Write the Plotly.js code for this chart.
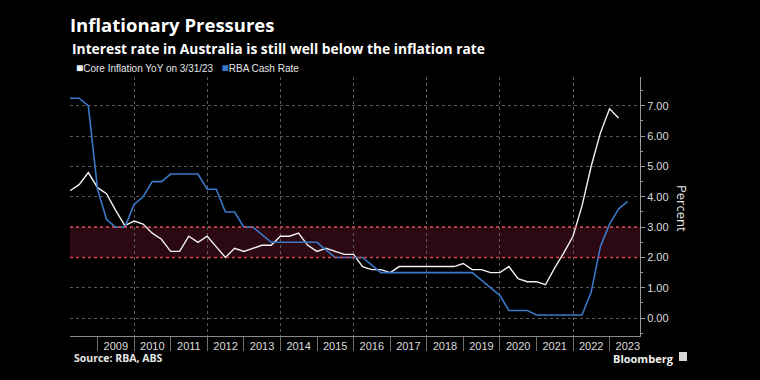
<!DOCTYPE html>
<html>
<head>
<meta charset="utf-8">
<script src="https://cdn.plot.ly/plotly-3.0.1.min.js"></script>
<style>html,body{margin:0;padding:0;background:#000;}#chart{width:760px;height:380px;}</style>
</head>
<body>
<div id="chart"></div>
<script>
// Quarter-end dates
const quarterDates = [
  '2008-03-31','2008-06-30','2008-09-30','2008-12-31',
  '2009-03-31','2009-06-30','2009-09-30','2009-12-31',
  '2010-03-31','2010-06-30','2010-09-30','2010-12-31',
  '2011-03-31','2011-06-30','2011-09-30','2011-12-31',
  '2012-03-31','2012-06-30','2012-09-30','2012-12-31',
  '2013-03-31','2013-06-30','2013-09-30','2013-12-31',
  '2014-03-31','2014-06-30','2014-09-30','2014-12-31',
  '2015-03-31','2015-06-30','2015-09-30','2015-12-31',
  '2016-03-31','2016-06-30','2016-09-30','2016-12-31',
  '2017-03-31','2017-06-30','2017-09-30','2017-12-31',
  '2018-03-31','2018-06-30','2018-09-30','2018-12-31',
  '2019-03-31','2019-06-30','2019-09-30','2019-12-31',
  '2020-03-31','2020-06-30','2020-09-30','2020-12-31',
  '2021-03-31','2021-06-30','2021-09-30','2021-12-31',
  '2022-03-31','2022-06-30','2022-09-30','2022-12-31',
  '2023-03-31','2023-06-30'
];

// Core Inflation YoY (through 3/31/23)
const coreInflation = [
  4.2, 4.4, 4.8, 4.3,
  4.1, 3.55, 3.05, 3.2,
  3.1, 2.8, 2.6, 2.2,
  2.2, 2.7, 2.5, 2.7,
  2.35, 2.0, 2.3, 2.2,
  2.3, 2.4, 2.4, 2.7,
  2.7, 2.8, 2.4, 2.2,
  2.3, 2.2, 2.1, 2.1,
  1.7, 1.6, 1.6, 1.5,
  1.7, 1.7, 1.7, 1.7,
  1.7, 1.7, 1.7, 1.8,
  1.6, 1.6, 1.5, 1.5,
  1.7, 1.3, 1.2, 1.2,
  1.1, 1.65, 2.15, 2.7,
  3.7, 5.0, 6.1, 6.9,
  6.6
];

// RBA Cash Rate
const cashRate = [
  7.25, 7.25, 7.0, 4.25,
  3.25, 3.0, 3.0, 3.75,
  4.0, 4.5, 4.5, 4.75,
  4.75, 4.75, 4.75, 4.25,
  4.25, 3.5, 3.5, 3.0,
  3.0, 2.75, 2.5, 2.5,
  2.5, 2.5, 2.5, 2.5,
  2.25, 2.0, 2.0, 2.0,
  2.0, 1.75, 1.5, 1.5,
  1.5, 1.5, 1.5, 1.5,
  1.5, 1.5, 1.5, 1.5,
  1.5, 1.25, 1.0, 0.75,
  0.25, 0.25, 0.25, 0.1,
  0.1, 0.1, 0.1, 0.1,
  0.1, 0.85, 2.35, 3.1,
  3.6, 3.85
];

// Inflation target band
const targetBand = [2, 3];

// X tick labels (centred mid-year)
const yearLabels = ['2009','2010','2011','2012','2013','2014','2015','2016','2017','2018','2019','2020','2021','2022','2023'];
const yearLabelDates = yearLabels.map(y => y + '-07-01');

const xRange = ['2008-03-31', '2023-10-31'];
const yRange = [-0.59, 7.95];

const names = ['Core Inflation YoY on 3/31/23', 'RBA Cash Rate'];
const colors = ['#f2f2f2', '#3a78c9'];

const traces = [
  {
    x: quarterDates.slice(0, cashRate.length), y: cashRate, name: names[1],
    type: 'scatter', mode: 'lines', xaxis: 'x2', yaxis: 'y',
    line: {color: colors[1], width: 1.6}, showlegend: false, hoverinfo: 'skip'
  },
  {
    x: quarterDates.slice(0, coreInflation.length), y: coreInflation, name: names[0],
    type: 'scatter', mode: 'lines', xaxis: 'x', yaxis: 'y',
    line: {color: colors[0], width: 1.4}, showlegend: false, hoverinfo: 'skip'
  }
];

const tickFont = {family: 'Liberation Sans, Arial, sans-serif', size: 11, color: '#dcdcdc'};

const layout = {
  width: 760, height: 380,
  paper_bgcolor: '#000', plot_bgcolor: '#000',
  margin: {l: 70, r: 120, t: 77, b: 44, pad: 0},
  showlegend: false,
  title: {
    text: '<b>Inflationary Pressures</b>',
    font: {family: 'Open Sans, sans-serif', size: 18.5, color: '#ffffff'},
    xref: 'container', yref: 'container',
    x: 70 / 760, xanchor: 'left',
    y: 1 - 19 / 380, yanchor: 'top',
    pad: {t: 0, b: 0, l: 0, r: 0}
  },
  xaxis: {
    type: 'date', range: xRange,
    tickmode: 'array', tickvals: yearLabelDates, ticktext: yearLabels,
    ticks: '', showgrid: false, zeroline: false,
    showline: true, linecolor: '#8a8a8a', linewidth: 1,
    tickfont: tickFont, fixedrange: true
  },
  xaxis2: {
    type: 'date', range: xRange, overlaying: 'x', matches: 'x', anchor: 'y', side: 'bottom',
    tickmode: 'linear', tick0: '2010-01-01', dtick: 'M24',
    showticklabels: false,
    ticks: 'outside', ticklen: 14, tickwidth: 1, tickcolor: '#6f6f6f',
    showgrid: true, gridcolor: '#5a5a5a', griddash: 'dot', gridwidth: 1,
    minor: {tick0: '2009-01-01', dtick: 'M12', ticks: 'outside', ticklen: 14, tickwidth: 1, tickcolor: '#6f6f6f', showgrid: false},
    showline: false, zeroline: false, fixedrange: true
  },
  yaxis: {
    side: 'right', range: yRange,
    tickmode: 'linear', tick0: 0, dtick: 1, tickformat: '.2f',
    ticks: 'outside', ticklen: 4, tickwidth: 1, tickcolor: '#9a9a9a',
    minor: {dtick: 0.5, tick0: 0, ticks: 'outside', ticklen: 2, tickcolor: '#9a9a9a', showgrid: false},
    showgrid: true, gridcolor: '#5a5a5a', griddash: 'dot', gridwidth: 1,
    zeroline: false, showline: true, linecolor: '#9a9a9a', linewidth: 1,
    tickfont: tickFont, fixedrange: true
  },
  shapes: [
    {type: 'rect', xref: 'paper', yref: 'y', x0: 0, x1: 1, y0: targetBand[0], y1: targetBand[1],
     fillcolor: '#2b0812', line: {width: 0}, layer: 'below'},
    {type: 'line', xref: 'paper', yref: 'y', x0: 0, x1: 1, y0: targetBand[0], y1: targetBand[0],
     line: {color: '#d8434f', width: 1.5, dash: 'dot'}, layer: 'above'},
    {type: 'line', xref: 'paper', yref: 'y', x0: 0, x1: 1, y0: targetBand[1], y1: targetBand[1],
     line: {color: '#d8434f', width: 1.5, dash: 'dot'}, layer: 'above'},
    {type: 'rect', xref: 'paper', yref: 'paper', x0: (679 - 70) / 570, x1: (687 - 70) / 570,
     y0: (336 - 361) / 259, y1: (336 - 352) / 259, fillcolor: '#d8d8d8', line: {width: 0}}
  ],
  annotations: [
    {text: '<b>Interest rate in Australia is still well below the inflation rate</b>',
     xref: 'paper', yref: 'paper', x: 0, y: (336 - 48.5) / 259, xanchor: 'left', yanchor: 'middle',
     showarrow: false, font: {family: 'Open Sans, sans-serif', size: 13.8, color: '#ffffff'}},
    {text: '<span style="color:' + colors[0] + ';font-size:12px">■</span>' + names[0] +
           '   <span style="color:' + colors[1] + ';font-size:12px">■</span>' + names[1],
     xref: 'paper', yref: 'paper', x: 4 / 570, y: (336 - 68) / 259, xanchor: 'left', yanchor: 'middle',
     showarrow: false, font: {family: 'Liberation Sans, Arial, sans-serif', size: 10, color: '#e6e6e6'}},
    {text: 'Percent', textangle: 90,
     xref: 'paper', yref: 'paper', x: (682 - 70) / 570, y: (336 - 208) / 259, xanchor: 'center', yanchor: 'middle',
     showarrow: false, font: {family: 'Open Sans, sans-serif', size: 13, color: '#e6e6e6'}},
    {text: '<b>Source: RBA, ABS</b>',
     xref: 'paper', yref: 'paper', x: 2 / 570, y: (336 - 358) / 259, xanchor: 'left', yanchor: 'middle',
     showarrow: false, font: {family: 'Open Sans, sans-serif', size: 10.5, color: '#e6e6e6'}},
    {text: '<b>Bloomberg</b>',
     xref: 'paper', yref: 'paper', x: (611 - 70) / 570, y: (336 - 358) / 259, xanchor: 'left', yanchor: 'middle',
     showarrow: false, font: {family: 'Open Sans, sans-serif', size: 11, color: '#f0f0f0'}}
  ]
};

Plotly.newPlot('chart', traces, layout, {displayModeBar: false, staticPlot: true});
</script>
</body>
</html>
